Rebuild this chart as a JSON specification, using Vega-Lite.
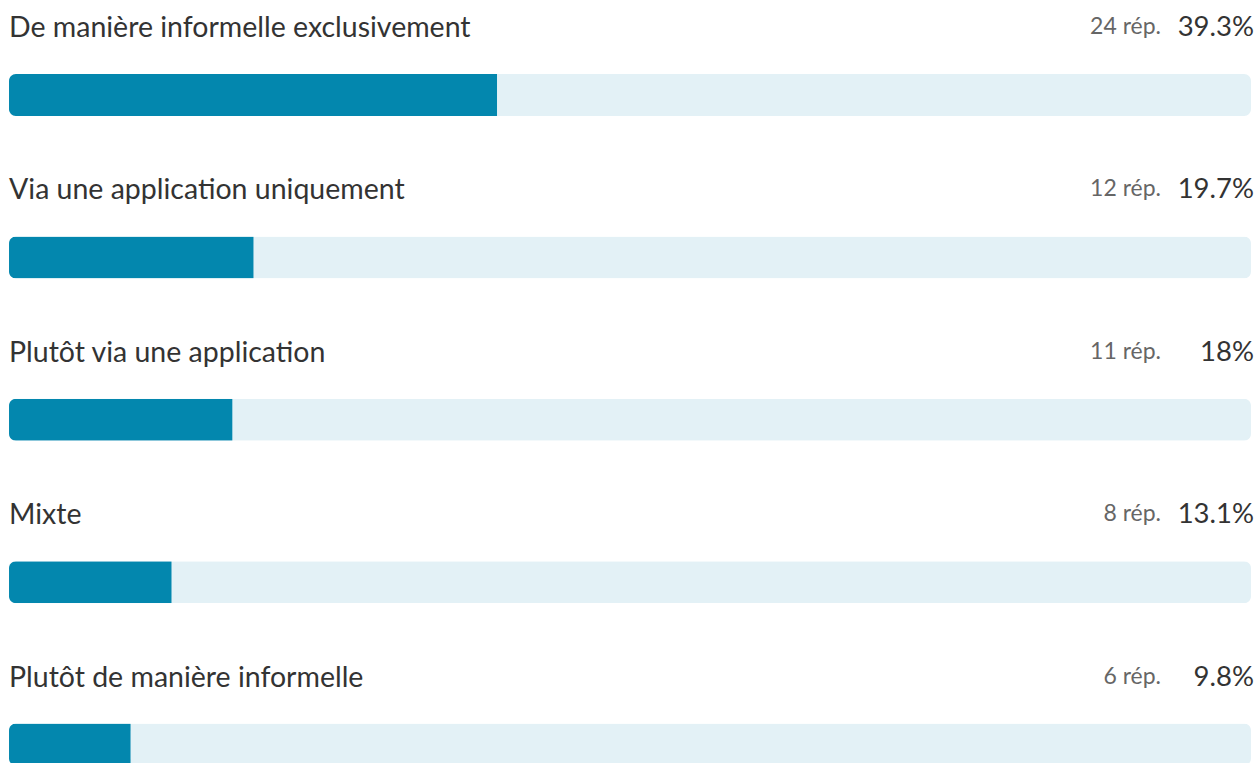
{
  "$schema": "https://vega.github.io/schema/vega-lite/v6.json",
  "width": 1242,
  "height": {"step": 162.4},
  "padding": {"left": 9, "right": 8, "top": 0, "bottom": 0},
  "autosize": {"type": "pad"},
  "background": "white",
  "config": {"view": {"stroke": null}, "font": "Lato"},
  "data": {"values": [
    {"label": "De manière informelle exclusivement", "n": 24, "pct": 39.3, "total": 100, "pctText": "39.3%", "nText": "24 rép."},
    {"label": "Via une application uniquement", "n": 12, "pct": 19.7, "total": 100, "pctText": "19.7%", "nText": "12 rép."},
    {"label": "Plutôt via une application", "n": 11, "pct": 18.0, "total": 100, "pctText": "18%", "nText": "11 rép."},
    {"label": "Mixte", "n": 8, "pct": 13.1, "total": 100, "pctText": "13.1%", "nText": "8 rép."},
    {"label": "Plutôt de manière informelle", "n": 6, "pct": 9.8, "total": 100, "pctText": "9.8%", "nText": "6 rép."}
  ]},
  "encoding": {
    "y": {"field": "label", "type": "nominal", "sort": null, "axis": null,
          "scale": {"paddingInner": 0, "paddingOuter": 0.085}}
  },
  "layer": [
    {"mark": {"type": "bar", "height": 42, "color": "#e3f1f6", "cornerRadius": 7},
     "encoding": {"x": {"field": "total", "type": "quantitative", "axis": null, "scale": {"domain": [0, 100], "nice": false}}}},
    {"mark": {"type": "bar", "height": 42, "color": "#0387ae", "cornerRadiusTopLeft": 7, "cornerRadiusBottomLeft": 7},
     "encoding": {"x": {"field": "pct", "type": "quantitative"}}},
    {"mark": {"type": "text", "align": "left", "baseline": "middle", "dy": -67, "fontSize": 28.5, "color": "#333333"},
     "encoding": {"x": {"datum": 0}, "text": {"field": "label"}}},
    {"mark": {"type": "text", "align": "right", "baseline": "middle", "dy": -67, "dx": 3, "fontSize": 27.5, "color": "#333333"},
     "encoding": {"x": {"datum": 100}, "text": {"field": "pctText"}}},
    {"mark": {"type": "text", "align": "right", "baseline": "middle", "dy": -68, "dx": -90, "fontSize": 23, "color": "#666666"},
     "encoding": {"x": {"datum": 100}, "text": {"field": "nText"}}}
  ]
}
